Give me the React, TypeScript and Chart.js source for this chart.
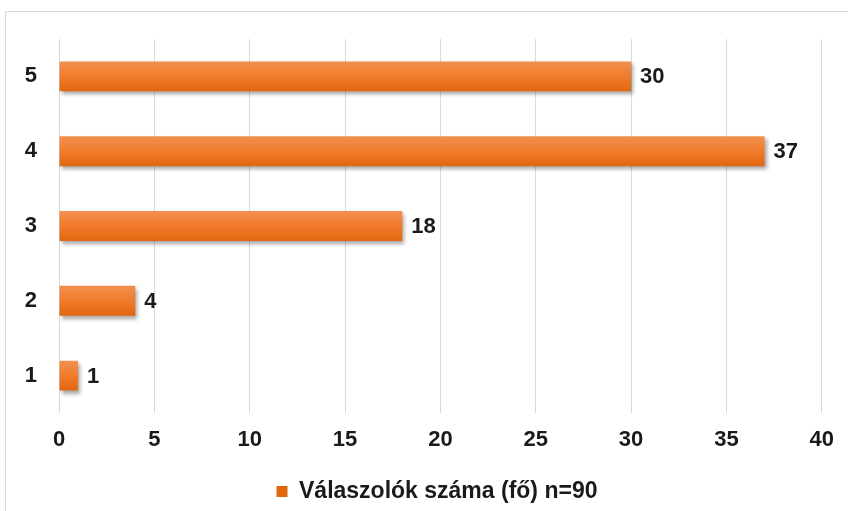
import React, { useEffect, useRef } from "react";
import { Chart, registerables } from "chart.js";

Chart.register(...registerables);

const categories = ["5", "4", "3", "2", "1"];
const values = [30, 37, 18, 4, 1];
const seriesLabel = "Válaszolók száma (fő) n=90";
const xTicks = [0, 5, 10, 15, 20, 25, 30, 35, 40];

const FONT = "'Liberation Sans', Arial, sans-serif";
const BAR_PCT = 0.4;

export default function App() {
  const ref = useRef<HTMLCanvasElement | null>(null);

  useEffect(() => {
    if (!ref.current) return;

    const shadowPlugin = {
      id: "barShadow",
      beforeDatasetDraw(chart: any) {
        const ctx = chart.ctx;
        ctx.save();
        ctx.shadowColor = "rgba(0,0,0,0.35)";
        ctx.shadowBlur = 4;
        ctx.shadowOffsetX = 2;
        ctx.shadowOffsetY = 3;
      },
      afterDatasetDraw(chart: any) {
        chart.ctx.restore();
      },
    };

    const legendShift = {
      id: "legendShift",
      afterLayout(chart: any) {
        const lg = chart.legend;
        if (!lg) return;
        lg.left += 26;
        lg.right += 26;
        lg.top += 2;
        lg.bottom += 2;
      },
    };

    const labelPlugin = {
      id: "valueLabels",
      afterDatasetsDraw(chart: any) {
        const ctx = chart.ctx;
        const meta = chart.getDatasetMeta(0);
        ctx.save();
        ctx.font = `bold 22px ${FONT}`;
        ctx.fillStyle = "#1a1a1a";
        ctx.textAlign = "left";
        ctx.textBaseline = "middle";
        meta.data.forEach((bar: any, i: number) => {
          ctx.fillText(String(chart.data.datasets[0].data[i]), bar.x + 9, bar.y + 1);
        });
        ctx.restore();
      },
    };

    const chart = new Chart(ref.current, {
      type: "bar",
      data: {
        labels: categories,
        datasets: [
          {
            label: seriesLabel,
            data: values,
            backgroundColor: (c: any) => {
              const ch = c.chart;
              const { ctx, chartArea, scales } = ch;
              if (!chartArea || !scales.y) return "#F07A2A";
              const yc = scales.y.getPixelForValue(c.dataIndex);
              const half = (scales.y.height / categories.length) * BAR_PCT / 2;
              const g = ctx.createLinearGradient(0, yc - half, 0, yc + half);
              g.addColorStop(0, "#F2904F");
              g.addColorStop(0.5, "#F07B2C");
              g.addColorStop(1, "#E2670F");
              return g;
            },
            borderWidth: 0,
            barPercentage: BAR_PCT,
            categoryPercentage: 1,
          },
        ],
      },
      options: {
        indexAxis: "y",
        animation: false,
        responsive: false,
        maintainAspectRatio: false,
        layout: { padding: { top: 39, right: 26, left: 0, bottom: 0 } },
        scales: {
          x: {
            min: 0,
            max: 40,
            ticks: {
              stepSize: 5,
              padding: 14,
              color: "#1a1a1a",
              font: { family: FONT, size: 22, weight: "bold" },
              callback: (v: any) => (xTicks.includes(Number(v)) ? String(v) : ""),
            },
            grid: { color: "#d9d9d9", lineWidth: 1, drawTicks: false },
            border: { display: false },
            afterFit: (s: any) => {
              s.height = 55;
            },
          },
          y: {
            ticks: {
              padding: 22,
              color: "#1a1a1a",
              font: { family: FONT, size: 22, weight: "bold" },
            },
            grid: { display: false, drawTicks: false },
            border: { display: false },
            afterFit: (s: any) => {
              s.width = 59;
            },
          },
        },
        plugins: {
          legend: {
            position: "bottom",
            labels: {
              boxWidth: 11,
              boxHeight: 11,
              padding: 10,
              color: "#1a1a1a",
              font: { family: FONT, size: 23, weight: "bold" },
            },
          },
          tooltip: { enabled: false },
        },
      },
      plugins: [shadowPlugin, labelPlugin, legendShift],
    } as any);

    return () => chart.destroy();
  }, []);

  return (
    <div
      style={{
        position: "fixed",
        left: 0,
        top: 0,
        width: 848,
        height: 511,
        background: "#ffffff",
        overflow: "hidden",
      }}
    >
      <div
        style={{
          position: "absolute",
          left: 5,
          top: 11,
          width: 900,
          height: 600,
          border: "1px solid #d9d9d9",
          boxSizing: "border-box",
        }}
      />
      <canvas
        ref={ref}
        width={848}
        height={511}
        style={{ position: "absolute", left: 0, top: 0 }}
      />
    </div>
  );
}
